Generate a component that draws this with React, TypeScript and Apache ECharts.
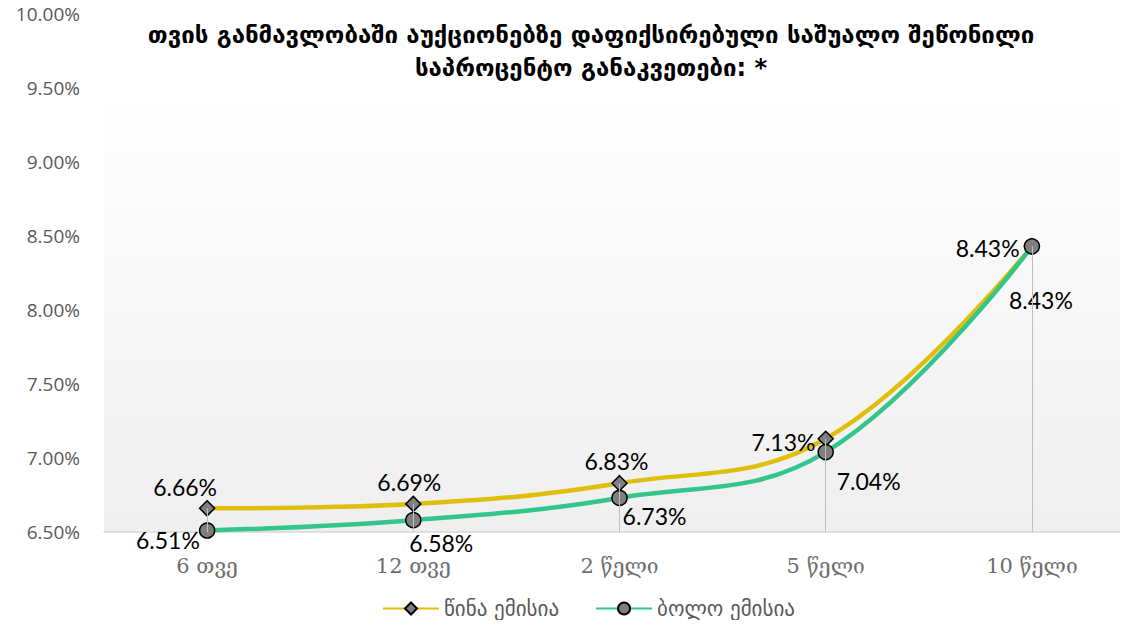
import React, { useEffect, useRef } from "react";
import * as echarts from "echarts";

const categories = ["6 თვე", "12 თვე", "2 წელი", "5 წელი", "10 წელი"];
const prevIssue = [6.66, 6.69, 6.83, 7.13, 8.43];
const lastIssue = [6.51, 6.58, 6.73, 7.04, 8.43];
const seriesNames = ["წინა ემისია", "ბოლო ემისია"];
const titleText = "თვის განმავლობაში აუქციონებზე დაფიქსირებული საშუალო შეწონილი\nსაპროცენტო განაკვეთები: *";

const prevLabelPos: any[] = [
  { position: "top", offset: [-22, 2] },
  { position: "top", offset: [-4, 2] },
  { position: "top", offset: [-3, 2] },
  { position: "left", offset: [2, 3] },
  { position: "left", offset: [0, 2] },
];
const lastLabelPos: any[] = [
  { position: "left", offset: [5, 9] },
  { position: "bottom", offset: [28, -1] },
  { position: "bottom", offset: [35, -6] },
  { position: "bottom", offset: [43, 5] },
  { position: "bottom", offset: [9, 30] },
];

export default function App() {
  const ref = useRef<HTMLDivElement>(null);
  useEffect(() => {
    const chart = echarts.init(ref.current!, null, { renderer: "svg" });
    const labelFont = { fontFamily: "Lato, 'Noto Sans', sans-serif", fontSize: 23, color: "#000" };
    const dropData = categories.map((c, i) => [
      { coord: [c, Math.max(prevIssue[i], lastIssue[i])] },
      { coord: [c, 6.5] },
    ]);
    chart.setOption({
      animation: false,
      title: {
        text: titleText,
        left: 586,
        top: 13,
        textAlign: "center",
        textStyle: {
          fontFamily: "'DejaVu Sans', sans-serif",
          fontWeight: "bold",
          fontSize: 24,
          lineHeight: 33,
          color: "#000",
        },
      },
      legend: {
        bottom: 4,
        left: 377,
        itemWidth: 56,
        itemHeight: 15,
        itemGap: 36,
        textStyle: { fontFamily: "'DejaVu Sans', sans-serif", fontSize: 21, color: "#595959" },
        data: seriesNames,
      },
      grid: {
        left: 104,
        top: 14,
        width: 1031,
        height: 518,
        show: true,
        borderWidth: 0,
        backgroundColor: new echarts.graphic.LinearGradient(0, 0, 0, 1, [
          { offset: 0, color: "#ffffff" },
          { offset: 0.15, color: "#ffffff" },
          { offset: 1, color: "#efefef" },
        ]),
      },
      xAxis: {
        type: "category",
        data: categories,
        boundaryGap: true,
        axisLine: { lineStyle: { color: "#d9d9d9", width: 1.5 } },
        axisTick: { show: false },
        axisLabel: {
          fontFamily: "'DejaVu Serif', serif",
          fontSize: 21,
          color: "#6e6e6e",
          margin: 23,
        },
      },
      yAxis: {
        type: "value",
        min: 6.5,
        max: 10,
        interval: 0.5,
        axisLine: { show: false },
        axisTick: { show: false },
        splitLine: { show: false },
        axisLabel: {
          formatter: (v: number) => v.toFixed(2) + "%",
          fontFamily: "'Open Sans', sans-serif",
          fontSize: 19,
          color: "#595959",
          margin: 24,
        },
      },
      series: [
        {
          name: "drop",
          type: "line",
          data: [],
          z: 1,
          silent: true,
          markLine: {
            symbol: "none",
            silent: true,
            label: { show: false },
            lineStyle: { color: "#bfbfbf", width: 1, type: "solid" },
            data: dropData,
          },
        },
        {
          name: seriesNames[0],
          type: "line",
          smooth: 0.4,
          z: 3,
          data: prevIssue.map((v, i) => ({ value: v, label: prevLabelPos[i] })),
          symbol: "diamond",
          symbolSize: 15,
          lineStyle: { color: "#dfbe0c", width: 4.5 },
          itemStyle: { color: "#7f7f7f", borderColor: "#000", borderWidth: 1.5 },
          label: {
            show: true,
            distance: 4,
            formatter: (p: any) => p.value.toFixed(2) + "%",
            ...labelFont,
          },
        },
        {
          name: seriesNames[1],
          type: "line",
          smooth: 0.4,
          z: 4,
          data: lastIssue.map((v, i) => ({ value: v, label: lastLabelPos[i] })),
          symbol: "circle",
          symbolSize: 15,
          lineStyle: { color: "#33c58a", width: 4.5 },
          itemStyle: { color: "#7f7f7f", borderColor: "#000", borderWidth: 1.5 },
          label: {
            show: true,
            distance: 4,
            formatter: (p: any) => p.value.toFixed(2) + "%",
            ...labelFont,
          },
        },
      ],
    });
    return () => chart.dispose();
  }, []);
  return (
    <div style={{ width: 1128, height: 628, margin: -8, overflow: "hidden" }}>
      <div ref={ref} style={{ width: 1140, height: 628 }} />
    </div>
  );
}
